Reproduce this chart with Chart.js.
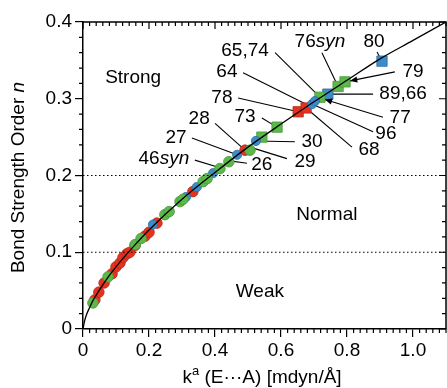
<!DOCTYPE html>
<html>
<head>
<meta charset="utf-8">
<script src="https://cdn.jsdelivr.net/npm/chart.js@4/dist/chart.umd.min.js"></script>
<style>
  html, body { margin: 0; padding: 0; background: #fff; }
  #wrap { width: 447px; height: 388px; position: relative; }
</style>
</head>
<body>
<div id="wrap"><canvas id="chart"></canvas></div>
<script>
'use strict';

var FONT = '"Liberation Sans", Arial, Helvetica, sans-serif';

/*-- data: [k (mdyn/A), n] --*/
var greenCircles = [[0.030, 0.034], [0.076, 0.068], [0.158, 0.110], [0.176, 0.118], [0.248, 0.149],
  [0.261, 0.153], [0.294, 0.166], [0.303, 0.169], [0.364, 0.192], [0.376, 0.196],
  [0.415, 0.209], [0.442, 0.218], [0.506, 0.233]];
var redCircles = [[0.036, 0.038], [0.048, 0.048], [0.064, 0.060], [0.088, 0.072], [0.100, 0.081],
  [0.112, 0.086], [0.121, 0.093], [0.133, 0.098], [0.142, 0.100], [0.158, 0.109],
  [0.188, 0.121], [0.200, 0.126], [0.224, 0.138], [0.333, 0.179], [0.491, 0.233]];
var blueCircles = [[0.212, 0.136], [0.312, 0.172], [0.345, 0.185], [0.394, 0.203], [0.467, 0.227],
  [0.524, 0.245], [0.694, 0.293], [0.703, 0.297]];
var greenSquares = [[0.542, 0.250], [0.588, 0.263], [0.718, 0.302], [0.773, 0.316], [0.794, 0.322]];
var blueSquares = [[0.742, 0.306], [0.906, 0.349]];
var redSquares = [[0.652, 0.283], [0.676, 0.288]];

/*-- fitted curve --*/
var curveK = [0, 0.005, 0.01, 0.02, 0.03, 0.05, 0.075, 0.1, 0.15, 0.2, 0.3, 0.4, 0.5, 0.6, 0.7, 0.8, 0.9, 1.0, 1.1];
var curveN = [0, 0.011, 0.018, 0.028, 0.037, 0.051, 0.067, 0.081, 0.106, 0.129, 0.169, 0.204, 0.237, 0.267, 0.296, 0.324, 0.352, 0.376, 0.400];

/*-- boundaries weak / normal / strong --*/
var boundaries = [0.1, 0.2];

/*-- ticks --*/
var xTicks = [0, 0.2, 0.4, 0.6, 0.8, 1.0];
var yTicks = [0, 0.1, 0.2, 0.3, 0.4];

/*-- region names --*/
var regions = [
  { text: 'Strong', k: 0.152, n: 0.327 },
  { text: 'Normal', k: 0.739, n: 0.149 },
  { text: 'Weak', k: 0.536, n: 0.048 }
];

/*-- callouts: text centre, line start, line end --*/
var callouts = [
  { t: '80', k: 0.882, n: 0.374, a: [0.891, 0.361], b: [0.906, 0.349] },
  { t: '76', it: 'syn', k: 0.718, n: 0.374, a: [0.724, 0.360], b: [0.773, 0.316] },
  { t: '65,74', k: 0.491, n: 0.362, a: [0.582, 0.360], b: [0.718, 0.302] },
  { t: '64', k: 0.436, n: 0.335, a: [0.485, 0.334], b: [0.690, 0.290] },
  { t: '78', k: 0.421, n: 0.301, a: [0.470, 0.301], b: [0.652, 0.283] },
  { t: '73', k: 0.491, n: 0.276, a: [0.542, 0.275], b: [0.588, 0.263] },
  { t: '28', k: 0.352, n: 0.274, a: [0.400, 0.268], b: [0.491, 0.233] },
  { t: '79', k: 1.000, n: 0.335, a: [0.945, 0.335], b: [0.794, 0.322], arrow: true },
  { t: '89,66', k: 0.970, n: 0.306, a: [0.879, 0.306], b: [0.742, 0.306] },
  { t: '77', k: 0.961, n: 0.275, a: [0.909, 0.276], b: [0.718, 0.301], arrow: true },
  { t: '96', k: 0.918, n: 0.255, a: [0.879, 0.257], b: [0.694, 0.293] },
  { t: '68', k: 0.867, n: 0.233, a: [0.815, 0.237], b: [0.676, 0.288] },
  { t: '30', k: 0.694, n: 0.244, a: [0.642, 0.244], b: [0.524, 0.245] },
  { t: '27', k: 0.282, n: 0.249, a: [0.330, 0.249], b: [0.467, 0.227] },
  { t: '29', k: 0.673, n: 0.218, a: [0.618, 0.222], b: [0.506, 0.237] },
  { t: '26', k: 0.542, n: 0.214, a: [0.497, 0.216], b: [0.445, 0.219] },
  { t: '46', it: 'syn', k: 0.245, n: 0.222, a: [0.339, 0.220], b: [0.415, 0.210] }
];

var RED = '#e5321f', RED_B = '#b8281a';
var GREEN = '#5db84b', GREEN_B = '#469a38';
var BLUE = '#3d8cc9', BLUE_B = '#2b6ea3';

function toXY(list) {
  return list.map(function (p) { return { x: p[0], y: p[1] }; });
}

function markers(list, style, fill, border, r) {
  return {
    type: 'scatter', data: toXY(list), pointStyle: style,
    backgroundColor: fill, borderColor: border, borderWidth: 0.8,
    pointRadius: r, pointHoverRadius: r
  };
}

/*-- frame, minor ticks, titles, callouts --*/
var decor = {
  id: 'decor',
  beforeDatasetsDraw: function (chart) {
    var ctx = chart.ctx, xs = chart.scales.x, ys = chart.scales.y;
    ctx.save();
    ctx.strokeStyle = '#000';
    ctx.lineWidth = 1.1;
    callouts.forEach(function (c) {
      var x1 = xs.getPixelForValue(c.a[0]), y1 = ys.getPixelForValue(c.a[1]);
      var x2 = xs.getPixelForValue(c.b[0]), y2 = ys.getPixelForValue(c.b[1]);
      ctx.beginPath(); ctx.moveTo(x1, y1); ctx.lineTo(x2, y2); ctx.stroke();
    });
    ctx.restore();
  },
  afterDatasetsDraw: function (chart) {
    var ctx = chart.ctx, xs = chart.scales.x, ys = chart.scales.y, area = chart.chartArea;
    var i, p;
    ctx.save();
    ctx.strokeStyle = '#000';
    ctx.fillStyle = '#000';

    // arrow heads
    callouts.forEach(function (c) {
      if (!c.arrow) return;
      var x1 = xs.getPixelForValue(c.a[0]), y1 = ys.getPixelForValue(c.a[1]);
      var x2 = xs.getPixelForValue(c.b[0]), y2 = ys.getPixelForValue(c.b[1]);
      var ang = Math.atan2(y2 - y1, x2 - x1);
      var tx = x2 - Math.cos(ang) * 5, ty = y2 - Math.sin(ang) * 5;
      ctx.beginPath();
      ctx.moveTo(tx, ty);
      ctx.lineTo(tx - Math.cos(ang - 0.4) * 8, ty - Math.sin(ang - 0.4) * 8);
      ctx.lineTo(tx - Math.cos(ang + 0.4) * 8, ty - Math.sin(ang + 0.4) * 8);
      ctx.closePath(); ctx.fill();
    });

    // top and right frame
    ctx.lineWidth = 1.5;
    ctx.beginPath();
    ctx.moveTo(area.left, area.top); ctx.lineTo(area.right, area.top); ctx.lineTo(area.right, area.bottom);
    ctx.stroke();

    // ticks
    ctx.lineWidth = 1.2;
    ctx.beginPath();
    for (i = 0; i <= 55; i++) {
      p = xs.getPixelForValue(i * 0.02);
      var major = i % 10 === 0;
      if (!major) { ctx.moveTo(p, area.bottom); ctx.lineTo(p, area.bottom + 4); }
      ctx.moveTo(p, area.top); ctx.lineTo(p, area.top + (major ? 7 : 4));
    }
    for (i = 0; i <= 20; i++) {
      p = ys.getPixelForValue(i * 0.02);
      var majorY = i % 5 === 0;
      if (!majorY) { ctx.moveTo(area.left, p); ctx.lineTo(area.left - 4, p); }
      ctx.moveTo(area.right, p); ctx.lineTo(area.right - (majorY ? 7 : 4), p);
    }
    ctx.stroke();

    // region names
    ctx.font = '19px ' + FONT;
    ctx.textAlign = 'center';
    ctx.textBaseline = 'middle';
    regions.forEach(function (r) {
      ctx.fillText(r.text, xs.getPixelForValue(r.k), ys.getPixelForValue(r.n));
    });

    // callout texts
    callouts.forEach(function (c) {
      var cx = xs.getPixelForValue(c.k), cy = ys.getPixelForValue(c.n);
      ctx.font = '19px ' + FONT;
      var w1 = ctx.measureText(c.t).width, w2 = 0;
      if (c.it) { ctx.font = 'italic 19px ' + FONT; w2 = ctx.measureText(c.it).width; }
      var x0 = cx - (w1 + w2) / 2;
      ctx.textAlign = 'left';
      ctx.font = '19px ' + FONT;
      ctx.fillText(c.t, x0, cy);
      if (c.it) { ctx.font = 'italic 19px ' + FONT; ctx.fillText(c.it, x0 + w1, cy); }
    });

    // x title: k^a (E...A) [mdyn/Å]
    var big = '19px ' + FONT, small = '13px ' + FONT;
    var rest = ' (E\u00b7\u00b7\u00b7A) [mdyn/\u00c5]';
    ctx.font = big; var wk = ctx.measureText('k').width, wr = ctx.measureText(rest).width;
    ctx.font = small; var wa = ctx.measureText('a').width;
    var sx = 262 - (wk + wa + wr) / 2, by = 383;
    ctx.textAlign = 'left';
    ctx.textBaseline = 'alphabetic';
    ctx.font = big; ctx.fillText('k', sx, by);
    ctx.font = small; ctx.fillText('a', sx + wk, by - 8);
    ctx.font = big; ctx.fillText(rest, sx + wk + wa, by);

    // y title: Bond Strength Order n
    ctx.translate(24, (area.top + area.bottom) / 2 + 2);
    ctx.rotate(-Math.PI / 2);
    var t1 = 'Bond Strength Order ';
    ctx.font = big; var w1 = ctx.measureText(t1).width;
    ctx.font = 'italic ' + big; var w2 = ctx.measureText('n').width;
    ctx.font = big; ctx.fillText(t1, -(w1 + w2) / 2, 0);
    ctx.font = 'italic ' + big; ctx.fillText('n', -(w1 + w2) / 2 + w1, 0);
    ctx.restore();
  }
};

var datasets = [];
boundaries.forEach(function (b) {
  datasets.push({
    type: 'line', data: [{ x: 0, y: b }, { x: 1.1, y: b }],
    borderColor: '#000', borderWidth: 1.2, borderDash: [1.5, 2.5], pointRadius: 0
  });
});
datasets.push({
  type: 'line', data: curveK.map(function (k, i) { return { x: k, y: curveN[i] }; }),
  borderColor: '#000', borderWidth: 1.3, pointRadius: 0, cubicInterpolationMode: 'monotone'
});
datasets.push(markers(greenCircles, 'circle', GREEN, GREEN_B, 5.3));
datasets.push(markers(blueCircles, 'circle', BLUE, BLUE_B, 4.6));
datasets.push(markers(redCircles, 'circle', RED, RED_B, 5.3));
datasets.push(markers(greenSquares, 'rect', GREEN, GREEN_B, 7.3));
datasets.push(markers(blueSquares, 'rect', BLUE, BLUE_B, 7.3));
datasets.push(markers(redSquares, 'rect', RED, RED_B, 7.3));

function tickLabel(v) { return v === 0 ? '0' : v.toFixed(1); }

function noPad(s) {
  s.paddingLeft = 0; s.paddingRight = 0; s.paddingTop = 0; s.paddingBottom = 0;
}

new Chart(document.getElementById('chart'), {
  type: 'scatter',
  data: { datasets: datasets },
  options: {
    responsive: true,
    maintainAspectRatio: false,
    animation: false,
    events: [],
    layout: { autoPadding: false, padding: { top: 22, right: 1, left: 0, bottom: 0 } },
    plugins: { legend: { display: false }, tooltip: { enabled: false } },
    scales: {
      x: {
        type: 'linear', min: 0, max: 1.1,
        afterBuildTicks: function (s) { s.ticks = xTicks.map(function (v) { return { value: v }; }); },
        afterFit: function (s) { s.height = 59; noPad(s); },
        ticks: { padding: 2, color: '#000', font: { size: 19, family: FONT }, maxRotation: 0, autoSkip: false, callback: tickLabel },
        grid: { drawOnChartArea: false, tickLength: 8, color: '#000', lineWidth: 1.2 },
        border: { color: '#000', width: 1.5 }
      },
      y: {
        type: 'linear', min: 0, max: 0.4,
        afterBuildTicks: function (s) { s.ticks = yTicks.map(function (v) { return { value: v }; }); },
        afterFit: function (s) { s.width = 83; noPad(s); },
        ticks: { padding: 3, color: '#000', font: { size: 19, family: FONT }, autoSkip: false, callback: tickLabel },
        grid: { drawOnChartArea: false, tickLength: 8, color: '#000', lineWidth: 1.2 },
        border: { color: '#000', width: 1.5 }
      }
    }
  },
  plugins: [decor]
});
</script>
</body>
</html>
